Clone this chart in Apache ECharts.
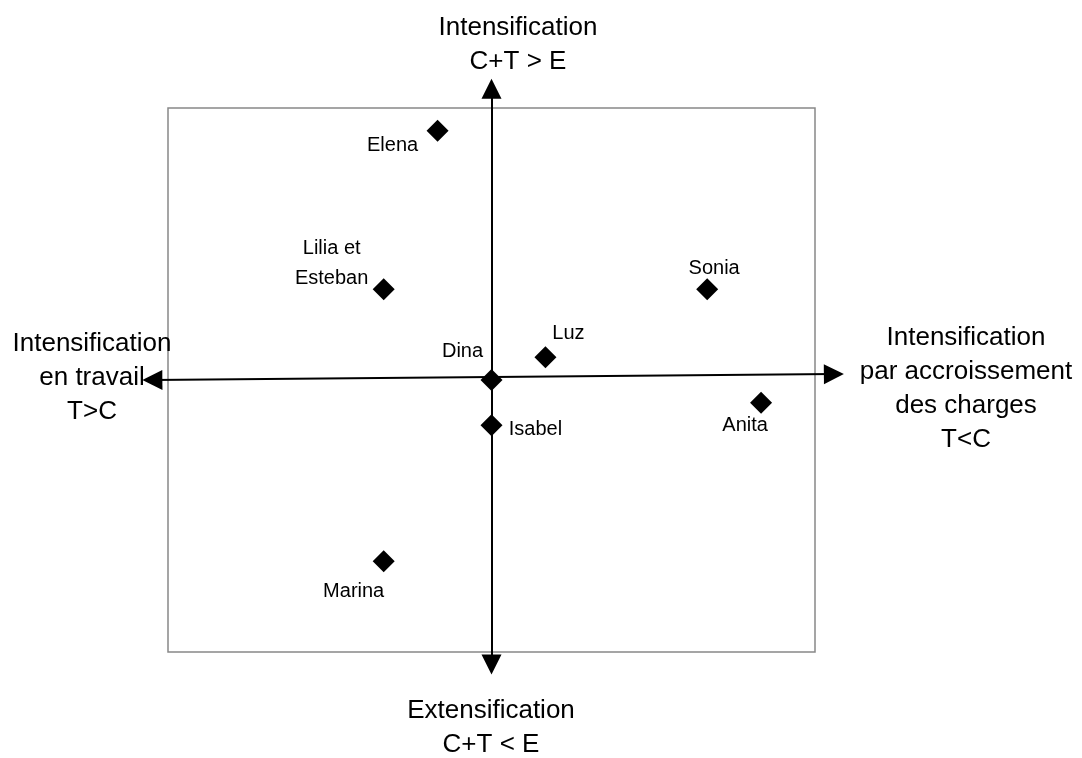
<!DOCTYPE html>
<html>
<head>
<meta charset="utf-8">
<script src="https://cdn.jsdelivr.net/npm/echarts@6/dist/echarts.min.js"></script>
<style>
  html, body { margin: 0; padding: 0; background: #fff; }
  #chart { width: 1082px; height: 758px; }
</style>
</head>
<body>
<div id="chart"></div>
<script>
// positions des personnes sur les deux axes
const names = ['Elena', 'Lilia et\nEsteban', 'Sonia', 'Luz', 'Dina', 'Isabel', 'Anita', 'Marina']
const xValues = [-1, -2, 4, 1, 0, 0, 5, -2]
const yValues = [11, 4, 4, 1, 0, -2, -1, -8]

// ou poser chaque étiquette par rapport au losange (px)
const labelOffsets = [[-45, 15], [-52, -26], [7, -21], [23, -24], [-29, -29], [44, 4], [-16, 23], [-30, 30]]

// bouts des flèches (unités des axes)
const hArrow = [[-6.29, 0], [6.35, 0.26]]
const vArrow = [[0, 12.85], [0, -12.55]]

const font = 'Liberation Sans'

let chart = echarts.init(document.getElementById('chart'))

const points = names.map((n, i) => ({
  name: n,
  value: [xValues[i], yValues[i]],
  label: { offset: labelOffsets[i] }
}))

const bigText = (text, x, y) => ({
  type: 'text', x: x, y: y,
  style: { text: text, fontFamily: font, fontSize: 26, lineHeight: 34, align: 'center', verticalAlign: 'top', fill: '#000' }
})

const option = {
  animation: false,
  grid: {
    show: true,
    left: 168,
    top: 108,
    width: 647,
    height: 544,
    borderColor: '#888',
    borderWidth: 1.5,
    backgroundColor: 'transparent'
  },
  xAxis: { type: 'value', min: -6, max: 6, show: false },
  yAxis: { type: 'value', min: -12, max: 12, show: false },
  graphic: [
    bigText('Intensification\nC+T > E', 518, 11),
    bigText('Intensification\nen travail\nT>C', 92, 327),
    bigText('Intensification\npar accroissement\ndes charges\nT<C', 966, 321),
    bigText('Extensification\nC+T < E', 491, 694)
  ],
  series: [
    {
      // les deux axes fléchés
      type: 'lines',
      coordinateSystem: 'cartesian2d',
      z: 1,
      clip: false,
      silent: true,
      symbol: ['triangle', 'triangle'],
      symbolSize: 20,
      lineStyle: { color: '#000', width: 2, type: 'solid', opacity: 1 },
      data: [
        { coords: hArrow },
        { coords: vArrow }
      ]
    },
    {
      type: 'scatter',
      z: 3,
      symbol: 'diamond',
      symbolSize: 22,
      itemStyle: { color: '#000', opacity: 1 },
      label: {
        show: true,
        position: 'inside',
        formatter: p => p.name,
        color: '#000',
        fontFamily: font,
        fontSize: 20,
        lineHeight: 30,
        align: 'center',
        verticalAlign: 'middle'
      },
      data: points
    }
  ]
}

chart.setOption(option)
</script>
</body>
</html>
